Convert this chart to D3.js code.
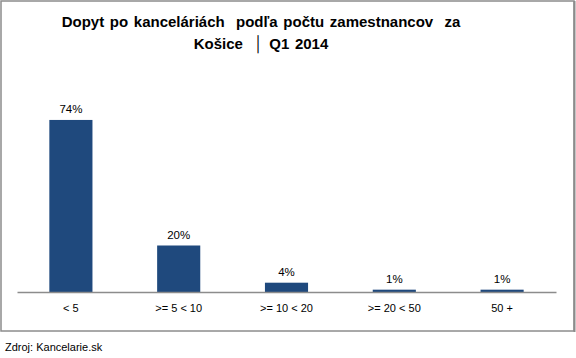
<!DOCTYPE html>
<html><head><meta charset="utf-8">
<script src="https://cdn.jsdelivr.net/npm/d3@7"></script>
<style>body{margin:0;background:#fff}svg{display:block}</style>
</head><body>
<svg id="c" width="576" height="358"></svg>
<script>
const categories = ["< 5", ">= 5 < 10", ">= 10 < 20", ">= 20 < 50", "50 +"];
const values = [74, 20, 4, 1, 1];
const valueLabels = ["74%", "20%", "4%", "1%", "1%"];
const titleLines = ["Dopyt po kanceláriách  podľa počtu zamestnancov  za", "Košice  │ Q1 2014"];
const source = "Zdroj: Kancelarie.sk";

const svg = d3.select("#c");
const font = "'Liberation Sans', Arial, sans-serif";

svg.append("rect").attr("x", 1).attr("y", 1).attr("width", 573).attr("height", 330)
  .attr("fill", "#fff").attr("stroke", "#8c8c8c").attr("stroke-width", 1.5);
svg.append("line").attr("x1", 574.5).attr("x2", 574.5).attr("y1", 1).attr("y2", 332)
  .attr("stroke", "#8c8c8c").attr("stroke-width", 2);

const x = d3.scaleBand().domain(categories).range([17, 556]).paddingInner(0.6).paddingOuter(0.3);
const y = d3.scaleLinear().domain([0, 80]).range([292, 106]);

svg.selectAll("rect.bar").data(values).join("rect").attr("class", "bar")
  .attr("x", (d, i) => x(categories[i]))
  .attr("width", x.bandwidth())
  .attr("y", d => y(d))
  .attr("height", d => Math.max(1.5, y(0) - y(d)))
  .attr("fill", "#1F497D");

svg.selectAll("text.vl").data(values).join("text").attr("class", "vl")
  .attr("x", (d, i) => x(categories[i]) + x.bandwidth() / 2)
  .attr("y", d => y(d) - 7)
  .attr("text-anchor", "middle").attr("font-family", font).attr("font-size", 11.5).attr("fill", "#000")
  .text((d, i) => valueLabels[i]);

const ax = svg.append("g").attr("transform", "translate(0,292)")
  .call(d3.axisBottom(x).tickSize(0).tickPadding(12));
ax.select(".domain").attr("stroke", "#8c8c8c").attr("stroke-width", 1.3);
ax.selectAll("text").attr("font-family", font).attr("font-size", 11).attr("fill", "#000");

svg.selectAll("text.title").data(titleLines).join("text").attr("class", "title")
  .attr("x", 261).attr("y", (d, i) => 27 + i * 22)
  .attr("text-anchor", "middle").attr("font-family", font).attr("font-size", 15)
  .attr("font-weight", "bold").attr("fill", "#000").attr("word-spacing", 1.5)
  .style("white-space", "pre").text(d => d);

svg.append("text").attr("x", 5).attr("y", 351).attr("font-family", font).attr("font-size", 11)
  .attr("fill", "#000").text(source);
</script>
</body></html>
